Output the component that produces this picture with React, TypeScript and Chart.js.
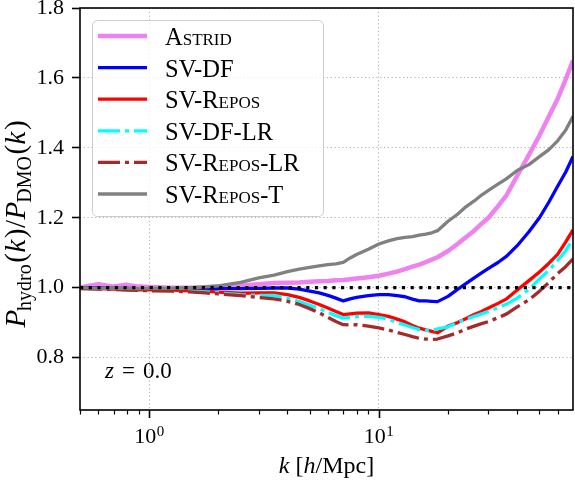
import React, { useEffect, useRef } from "react";
import { Chart, registerables } from "chart.js";

Chart.register(...registerables);

// ---------------- data ----------------
const kValues = [0.5, 0.6, 0.7, 0.8, 0.9, 1.0, 1.25, 1.5, 1.75, 2.0, 2.5, 3.0, 3.5, 4.0, 4.5, 5.0, 5.5, 6.0, 6.5, 7.0, 7.5, 8.0, 9.0, 10, 11, 12, 13, 14, 15, 16, 17, 18, 20, 22, 24, 26, 28, 30, 33, 36, 40, 45, 50, 55, 60, 65, 70];

const astrid = [1.000, 1.010, 1.003, 1.008, 1.003, 1.002, 1.000, 1.000, 1.001, 1.003, 1.006, 1.010, 1.013, 1.014, 1.015, 1.017, 1.018, 1.019, 1.021, 1.022, 1.024, 1.026, 1.030, 1.034, 1.040, 1.046, 1.053, 1.060, 1.066, 1.073, 1.080, 1.087, 1.105, 1.125, 1.145, 1.163, 1.183, 1.200, 1.233, 1.265, 1.320, 1.380, 1.435, 1.490, 1.540, 1.595, 1.650];

const svDF = [1.000, 0.999, 0.998, 0.998, 0.997, 0.997, 0.997, 0.998, 0.998, 0.997, 0.997, 0.998, 0.999, 0.999, 0.996, 0.990, 0.985, 0.978, 0.970, 0.962, 0.968, 0.972, 0.977, 0.980, 0.980, 0.977, 0.974, 0.967, 0.962, 0.962, 0.961, 0.960, 0.975, 0.995, 1.012, 1.028, 1.042, 1.055, 1.072, 1.090, 1.120, 1.160, 1.200, 1.245, 1.290, 1.330, 1.375];

const svRepos = [0.998, 0.997, 0.996, 0.995, 0.994, 0.994, 0.993, 0.991, 0.990, 0.987, 0.984, 0.985, 0.985, 0.980, 0.972, 0.962, 0.952, 0.942, 0.932, 0.923, 0.925, 0.927, 0.928, 0.923, 0.918, 0.910, 0.902, 0.892, 0.884, 0.879, 0.875, 0.871, 0.890, 0.900, 0.912, 0.923, 0.932, 0.942, 0.955, 0.968, 0.993, 1.020, 1.045, 1.070, 1.095, 1.130, 1.165];

const svDFLR = [0.998, 0.997, 0.996, 0.995, 0.994, 0.993, 0.992, 0.990, 0.988, 0.985, 0.980, 0.978, 0.978, 0.970, 0.960, 0.950, 0.940, 0.930, 0.920, 0.913, 0.915, 0.917, 0.918, 0.915, 0.910, 0.900, 0.893, 0.886, 0.880, 0.878, 0.878, 0.882, 0.888, 0.900, 0.910, 0.918, 0.925, 0.932, 0.943, 0.953, 0.970, 0.995, 1.025, 1.050, 1.078, 1.105, 1.140];

const svReposLR = [0.997, 0.996, 0.995, 0.993, 0.992, 0.991, 0.990, 0.988, 0.985, 0.982, 0.977, 0.972, 0.968, 0.961, 0.952, 0.940, 0.928, 0.915, 0.903, 0.894, 0.893, 0.894, 0.890, 0.885, 0.879, 0.872, 0.866, 0.860, 0.855, 0.853, 0.852, 0.853, 0.862, 0.871, 0.882, 0.890, 0.897, 0.903, 0.914, 0.925, 0.945, 0.965, 0.990, 1.015, 1.040, 1.060, 1.082];

const svReposT = [1.000, 0.998, 0.999, 0.998, 0.997, 0.998, 0.998, 0.999, 1.002, 1.005, 1.015, 1.028, 1.036, 1.046, 1.053, 1.058, 1.062, 1.066, 1.068, 1.072, 1.085, 1.095, 1.110, 1.125, 1.134, 1.140, 1.144, 1.146, 1.150, 1.153, 1.157, 1.163, 1.190, 1.210, 1.232, 1.248, 1.265, 1.278, 1.296, 1.312, 1.335, 1.352, 1.375, 1.395, 1.420, 1.450, 1.490];

const seriesLabels = ["Astrid", "SV-DF", "SV-Repos", "SV-DF-LR", "SV-Repos-LR", "SV-Repos-T"];

const referenceLevel = 1.0;
const xMin = 0.5;
const xMax = 70;
const yMin = 0.65;
const yMax = 1.8;

const yTicks = [0.8, 1.0, 1.2, 1.4, 1.6, 1.8];
const xMajorTicks = [1, 10];
const xMajorExponents = ["0", "1"];
const xMinorTicks = [0.5, 0.6, 0.7, 0.8, 0.9, 2, 3, 4, 5, 6, 7, 8, 9, 20, 30, 40, 50, 60];

const xTitleParts = ["k", " [", "h", "/Mpc]"];
const annotation = ["z", "=", "0.0"];

// ---------------- styles ----------------
const SERIF = "'Liberation Serif', 'Times New Roman', serif";
const GRID = "#b0b0b0";
const DASHDOT = [22, 5, 4, 5];

type Seg = { t: string; f: string; dy?: number; dx?: number };

function drawRich(ctx: CanvasRenderingContext2D, segs: Seg[], x: number, y: number, align: "left" | "center") {
  let w = 0;
  for (const s of segs) {
    ctx.font = s.f;
    w += ctx.measureText(s.t).width + (s.dx || 0);
  }
  let cx = align === "center" ? x - w / 2 : x;
  for (const s of segs) {
    ctx.font = s.f;
    cx += s.dx || 0;
    ctx.fillText(s.t, cx, y + (s.dy || 0));
    cx += ctx.measureText(s.t).width;
  }
}

const decorPlugin = {
  id: "decor",
  afterDraw(chart: any) {
    const ctx: CanvasRenderingContext2D = chart.ctx;
    const { left, right, top, bottom } = chart.chartArea;
    const xs = chart.scales.x;
    ctx.save();
    ctx.setLineDash([]);
    ctx.fillStyle = "#000";
    ctx.strokeStyle = "#000";
    ctx.textAlign = "left";
    ctx.textBaseline = "alphabetic";

    // frame
    ctx.lineWidth = 1.6;
    ctx.strokeRect(left, top, right - left, bottom - top);

    // x ticks
    const allTicks = [...xMajorTicks.map((v) => ({ v, major: true })), ...xMinorTicks.map((v) => ({ v, major: false }))];
    for (const t of allTicks) {
      const px = Math.round(xs.getPixelForValue(t.v)) + 0.5;
      ctx.lineWidth = t.major ? 1.6 : 1.2;
      ctx.beginPath();
      ctx.moveTo(px, bottom);
      ctx.lineTo(px, bottom + (t.major ? 8 : 4.5));
      ctx.stroke();
    }

    // x tick labels 10^n
    xMajorTicks.forEach((v, i) => {
      const px = xs.getPixelForValue(v);
      drawRich(
        ctx,
        [
          { t: "10", f: `22px ${SERIF}` },
          { t: xMajorExponents[i], f: `15px ${SERIF}`, dy: -7, dx: 0.5 },
        ],
        px,
        443,
        "center"
      );
    });

    // x title
    drawRich(
      ctx,
      [
        { t: xTitleParts[0], f: `italic 24px ${SERIF}` },
        { t: xTitleParts[1], f: `24px ${SERIF}` },
        { t: xTitleParts[2], f: `italic 24px ${SERIF}` },
        { t: xTitleParts[3], f: `24px ${SERIF}` },
      ],
      (left + right) / 2,
      473,
      "center"
    );

    // y title (rotated)
    ctx.save();
    ctx.translate(25, 224);
    ctx.rotate(-Math.PI / 2);
    const big = `29px ${SERIF}`;
    const bigI = `italic 29px ${SERIF}`;
    const sub = `20px ${SERIF}`;
    drawRich(
      ctx,
      [
        { t: "P", f: bigI },
        { t: "hydro", f: sub, dy: 6, dx: -1 },
        { t: "(", f: big, dx: 1.5 },
        { t: "k", f: bigI, dx: 0.5 },
        { t: ")", f: big, dx: 1.5 },
        { t: "/", f: big, dx: 0.5 },
        { t: "P", f: bigI, dx: 0.5 },
        { t: "DMO", f: sub, dy: 6, dx: -1 },
        { t: "(", f: big, dx: 1.5 },
        { t: "k", f: bigI, dx: 0.5 },
        { t: ")", f: big, dx: 1.5 },
      ],
      0,
      0,
      "center"
    );
    ctx.restore();

    // z = 0.0 annotation
    ctx.font = `italic 23px ${SERIF}`;
    ctx.fillText(annotation[0], 105, 378);
    ctx.font = `23px ${SERIF}`;
    ctx.fillText(annotation[1], 122, 378);
    ctx.fillText(annotation[2], 143, 378);

    // legend
    const lx = 92, ly = 20, lw = 231, lh = 196;
    ctx.beginPath();
    (ctx as any).roundRect(lx + 0.5, ly + 0.5, lw, lh, 5);
    ctx.fillStyle = "rgba(255,255,255,0.8)";
    ctx.fill();
    ctx.strokeStyle = "#cccccc";
    ctx.lineWidth = 1;
    ctx.stroke();

    const ds = chart.data.datasets.filter((d: any) => d.showInLegend);
    ds.forEach((d: any, i: number) => {
      const ry = 36 + i * 31.6;
      ctx.save();
      ctx.strokeStyle = d.borderColor;
      ctx.lineWidth = d.borderWidth;
      ctx.setLineDash(d.borderDash || []);
      ctx.lineCap = "butt";
      ctx.beginPath();
      ctx.moveTo(98, ry);
      ctx.lineTo(147, ry);
      ctx.stroke();
      ctx.restore();
      ctx.fillStyle = "#000";
      ctx.font = `small-caps 24.5px ${SERIF}`;
      (ctx as any).fontVariantCaps = "small-caps";
      ctx.fillText(d.label, 165, ry + 9);
      (ctx as any).fontVariantCaps = "normal";
    });

    ctx.restore();
  },
};

function pts(values: number[]) {
  return kValues.map((k, i) => ({ x: k, y: values[i] }));
}

export default function App() {
  const ref = useRef<HTMLCanvasElement>(null);

  useEffect(() => {
    if (!ref.current) return;
    const line = (label: string, values: number[], color: string, width: number, order: number, dash: number[] = []) => ({
      label,
      data: pts(values),
      borderColor: color,
      backgroundColor: color,
      borderWidth: width,
      borderDash: dash,
      borderJoinStyle: "round" as const,
      pointRadius: 0,
      tension: 0,
      fill: false,
      order,
      showInLegend: true,
    });

    const chart = new Chart(ref.current, {
      type: "line",
      data: {
        datasets: [
          line(seriesLabels[0], astrid, "#ee82ee", 4.5, 6),
          line(seriesLabels[1], svDF, "#0000ff", 3.3, 5),
          line(seriesLabels[2], svRepos, "#ff0000", 3.3, 4),
          line(seriesLabels[3], svDFLR, "#00ffff", 3.3, 3, DASHDOT),
          line(seriesLabels[4], svReposLR, "#a52a2a", 3.3, 2, DASHDOT),
          line(seriesLabels[5], svReposT, "#808080", 3.3, 1),
          {
            label: "reference",
            data: [
              { x: xMin, y: referenceLevel },
              { x: xMax, y: referenceLevel },
            ],
            borderColor: "#000",
            borderWidth: 3.2,
            borderDash: [3.2, 5.5],
            pointRadius: 0,
            fill: false,
            order: 0,
            showInLegend: false,
          } as any,
        ],
      },
      options: {
        animation: false,
        responsive: true,
        maintainAspectRatio: false,
        devicePixelRatio: 1,
        layout: { padding: { left: 0, right: 2, top: 8, bottom: 0 } },
        plugins: {
          legend: { display: false },
          tooltip: { enabled: false },
        },
        events: [],
        scales: {
          x: {
            type: "logarithmic",
            min: xMin,
            max: xMax,
            afterBuildTicks: (axis: any) => {
              axis.ticks = [...xMinorTicks, ...xMajorTicks]
                .sort((a, b) => a - b)
                .map((v) => ({ value: v, major: xMajorTicks.includes(v) }));
            },
            afterFit: (axis: any) => {
              axis.height = 70;
              axis.paddingLeft = 0;
              axis.paddingRight = 0;
            },
            ticks: { display: false, autoSkip: false },
            grid: {
              color: (c: any) => (c.tick && xMajorTicks.includes(c.tick.value) ? GRID : "rgba(0,0,0,0)"),
              lineWidth: 1,
              drawTicks: false,
            },
            border: { display: false, dash: [1.2, 2.6] },
          },
          y: {
            type: "linear",
            min: yMin,
            max: yMax,
            afterBuildTicks: (axis: any) => {
              axis.ticks = yTicks.map((v) => ({ value: v }));
            },
            afterFit: (axis: any) => {
              axis.width = 80;
              axis.paddingTop = 0;
              axis.paddingBottom = 0;
            },
            ticks: {
              autoSkip: false,
              padding: 8,
              color: "#000",
              font: { family: SERIF, size: 22 },
              callback: (v: any) => Number(v).toFixed(1),
            },
            grid: {
              color: GRID,
              lineWidth: 1,
              drawTicks: true,
              tickLength: 8,
              tickColor: "#000",
              tickWidth: 1.6,
              tickBorderDash: [],
            },
            border: { display: false, dash: [1.2, 2.6] },
          },
        },
      } as any,
      plugins: [decorPlugin],
    });
    return () => chart.destroy();
  }, []);

  return (
    <div style={{ position: "fixed", left: 0, top: 0, width: 575, height: 480, background: "#fff" }}>
      <canvas ref={ref} />
    </div>
  );
}
